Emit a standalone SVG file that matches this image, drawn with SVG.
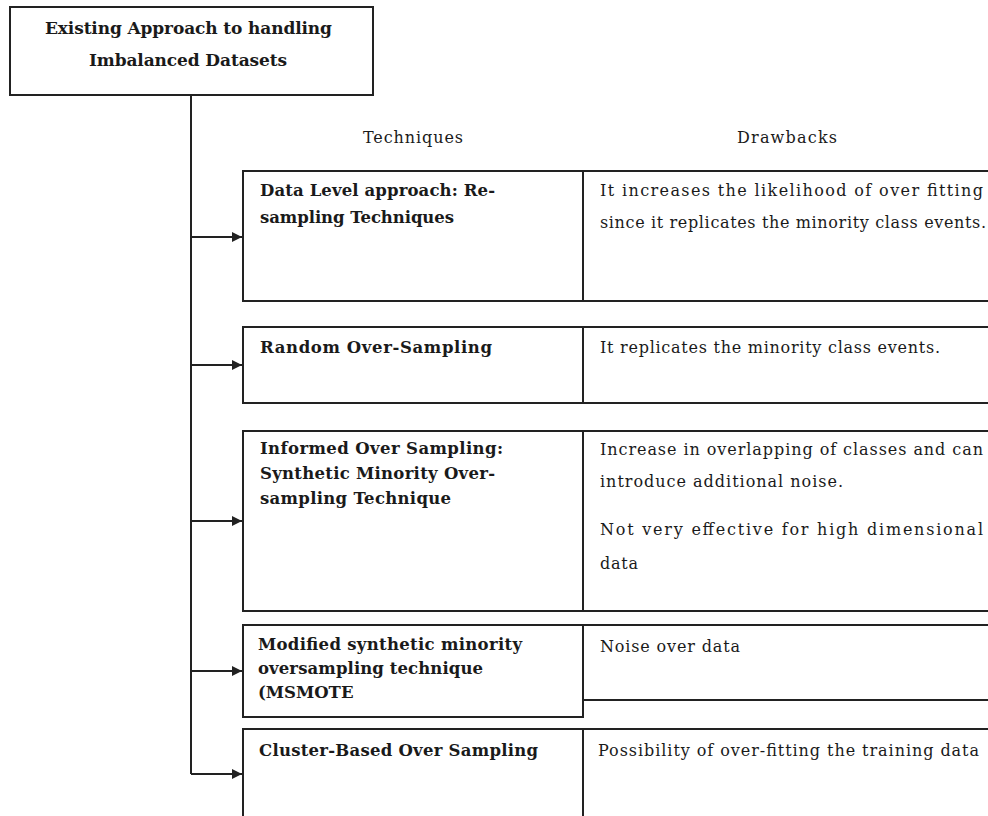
<svg xmlns="http://www.w3.org/2000/svg" width="988" height="816" viewBox="0 0 988 816">
<style>
.box{fill:#fff;stroke:#222;stroke-width:2}
.ln{fill:none;stroke:#222;stroke-width:2}
.b{font-family:"DejaVu Serif","Liberation Serif",serif;font-weight:bold;font-size:16.5px;fill:#1a1a1a}
.t{font-size:17px}
.r{font-family:"DejaVu Serif","Liberation Serif",serif;font-size:16px;fill:#1a1a1a}
</style>
<defs>
<marker id="ah" viewBox="0 0 10 10" refX="10" refY="5" markerWidth="14" markerHeight="10" markerUnits="userSpaceOnUse" orient="auto">
<path d="M0,0 L10,5 L0,10 z" fill="#222"/>
</marker>
</defs>
<rect width="988" height="816" fill="#fff"/>

<g id="connectors">
<path class="ln" d="M191,95 V774"/>
<path class="ln" d="M191,237 H242" marker-end="url(#ah)"/>
<path class="ln" d="M191,365 H242" marker-end="url(#ah)"/>
<path class="ln" d="M191,521 H242" marker-end="url(#ah)"/>
<path class="ln" d="M191,671 H242" marker-end="url(#ah)"/>
<path class="ln" d="M191,774 H242" marker-end="url(#ah)"/>
</g>

<g id="root">
<rect class="box" x="10" y="7" width="363" height="88"/>
<text class="b t" x="45" y="34" textLength="287">Existing Approach to handling</text>
<text class="b t" x="89" y="66" textLength="198">Imbalanced Datasets</text>
</g>

<g id="headers">
<text class="r" x="363" y="143" textLength="100">Techniques</text>
<text class="r" x="737" y="143" textLength="100">Drawbacks</text>
</g>

<g id="row1">
<rect class="box" x="243" y="171" width="340" height="130"/>
<rect class="box" x="583" y="171" width="420" height="130"/>
<text class="b" x="260" y="196" textLength="235">Data Level approach: Re-</text>
<text class="b" x="260" y="223" textLength="194">sampling Techniques</text>
<text class="r" x="600" y="196" textLength="383">It increases the likelihood of over fitting</text>
<text class="r" x="600" y="228" textLength="386">since it replicates the minority class events.</text>
</g>

<g id="row2">
<rect class="box" x="243" y="327" width="340" height="76"/>
<rect class="box" x="583" y="327" width="420" height="76"/>
<text class="b" x="260" y="353" textLength="232">Random Over-Sampling</text>
<text class="r" x="600" y="353" textLength="340">It replicates the minority class events.</text>
</g>

<g id="row3">
<rect class="box" x="243" y="431" width="340" height="180"/>
<rect class="box" x="583" y="431" width="420" height="180"/>
<text class="b" x="260" y="454" textLength="243">Informed Over Sampling:</text>
<text class="b" x="260" y="479" textLength="235">Synthetic Minority Over-</text>
<text class="b" x="260" y="504" textLength="191">sampling Technique</text>
<text class="r" x="600" y="455" textLength="383">Increase in overlapping of classes and can</text>
<text class="r" x="600" y="487" textLength="243">introduce additional noise.</text>
<text class="r" x="600" y="535" textLength="383">Not very effective for high dimensional</text>
<text class="r" x="600" y="569" textLength="38">data</text>
</g>

<g id="row4">
<rect class="box" x="243" y="625" width="340" height="92"/>
<rect class="box" x="583" y="625" width="420" height="75"/>
<text class="b" x="258" y="650" textLength="264">Modified synthetic minority</text>
<text class="b" x="258" y="674" textLength="225">oversampling technique</text>
<text class="b" x="258" y="698">(MSMOTE</text>
<text class="r" x="600" y="652" textLength="140">Noise over data</text>
</g>

<g id="row5">
<rect class="box" x="243" y="729" width="340" height="100"/>
<rect class="box" x="583" y="729" width="420" height="100"/>
<text class="b" x="259" y="756" textLength="279">Cluster-Based Over Sampling</text>
<text class="r" x="598" y="756" textLength="381">Possibility of over-fitting the training data</text>
</g>
</svg>
